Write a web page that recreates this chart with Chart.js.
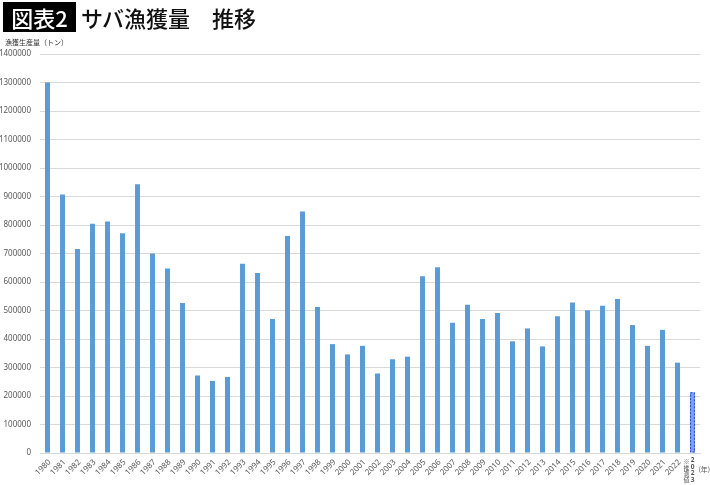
<!DOCTYPE html>
<html>
<head>
<meta charset="utf-8">
<script src="https://cdn.jsdelivr.net/npm/chart.js"></script>
<style>
  body { margin: 0; background: #fff; font-family: "Noto Sans CJK JP", "Noto Sans", sans-serif; }
  #wrap { position: relative; width: 710px; height: 485px; }
  #chart { position: absolute; left: 0; top: 0; }
  .badge { position: absolute; left: 3px; top: 2px; width: 73px; height: 30px; background: #000; color: #fff;
           font-size: 22px; font-weight: 500; line-height: 30px; text-align: center; }
  .title { position: absolute; left: 81px; top: 2px; font-size: 22px; font-weight: 500; line-height: 30px; color: #111; }
  .ylab { position: absolute; left: 5px; top: 37px; font-size: 7px; color: #333; }
</style>
</head>
<body>
<div id="wrap">
  <canvas id="chart" width="710" height="485"></canvas>
  <div class="badge">図表2</div>
  <div class="title">サバ漁獲量　推移</div>
  <div class="ylab">漁獲生産量（トン）</div>
</div>
<script>
// years 1980 - 2023 (2023 = estimate)
const years = ['1980','1981','1982','1983','1984','1985','1986','1987','1988','1989',
  '1990','1991','1992','1993','1994','1995','1996','1997','1998','1999',
  '2000','2001','2002','2003','2004','2005','2006','2007','2008','2009',
  '2010','2011','2012','2013','2014','2015','2016','2017','2018','2019',
  '2020','2021','2022','2023'];

// catch in tonnes
const catchTons = [1300000, 907000, 716000, 804000, 812000, 771000, 943000, 700000, 647000, 526000,
  272000, 253000, 267000, 664000, 632000, 470000, 761000, 847000, 512000, 382000,
  346000, 376000, 279000, 329000, 338000, 620000, 652000, 457000, 520000, 470000,
  491000, 392000, 437000, 374000, 480000, 528000, 501000, 517000, 540000, 449000,
  376000, 432000, 317000, 213000];

const estimateLabel = '※推測値';
const yearUnit = '(年)';

const barBlue = '#5b9bd5';
const estFill = '#7d9ef2';
const estBorder = '#2c46c9';

const lastIdx = years.length - 1;

// year labels drawn by hand: diagonal for normal years, stacked vertical for the estimate
const yearLabels = {
  id: 'yearLabels',
  afterDraw(chart) {
    const { ctx, scales: { x } } = chart;
    ctx.save();
    ctx.fillStyle = '#595959';
    ctx.font = '8px "Noto Sans", sans-serif';
    for (let i = 0; i < lastIdx; i++) {
      const px = x.getPixelForValue(i);
      ctx.save();
      ctx.translate(px + 2, 461);
      ctx.rotate(-Math.PI / 4);
      ctx.textAlign = 'right';
      ctx.textBaseline = 'middle';
      ctx.fillText(years[i], 0, 0);
      ctx.restore();
    }
    // estimate column
    const px = x.getPixelForValue(lastIdx);
    ctx.textAlign = 'center';
    ctx.textBaseline = 'top';
    ctx.font = '6px "Noto Sans CJK JP", sans-serif';
    estimateLabel.split('').forEach((c, k) => ctx.fillText(c, px - 6, 459 + k * 6));
    ctx.font = 'bold 6.5px "Noto Sans", sans-serif';
    years[lastIdx].split('').forEach((c, k) => ctx.fillText(c, px, 457 + k * 6.5));
    ctx.font = '7px "Noto Sans CJK JP", sans-serif';
    ctx.textAlign = 'left';
    ctx.fillText(yearUnit, px + 6, 466);
    ctx.restore();
  }
};

// dashed outline for the estimated bar
const dashedEstimate = {
  id: 'dashedEstimate',
  afterDatasetsDraw(chart) {
    const bar = chart.getDatasetMeta(0).data[lastIdx];
    if (!bar) return;
    const { x, y, base, width } = bar.getProps(['x', 'y', 'base', 'width'], true);
    const ctx = chart.ctx;
    ctx.save();
    ctx.strokeStyle = estBorder;
    ctx.lineWidth = 1;
    ctx.setLineDash([2, 1.5]);
    ctx.strokeRect(x - width / 2 + 0.5, y + 0.5, width - 1, base - y - 1);
    ctx.restore();
  }
};

new Chart(document.getElementById('chart'), {
  type: 'bar',
  data: {
    labels: years,
    datasets: [{
      data: catchTons,
      backgroundColor: catchTons.map((v, i) => i === lastIdx ? estFill : barBlue),
      borderWidth: 0,
      barPercentage: 0.33,
      categoryPercentage: 1
    }]
  },
  options: {
    responsive: false,
    animation: false,
    layout: { padding: { top: 54, right: 10, left: 0, bottom: 0 } },
    plugins: { legend: { display: false }, tooltip: { enabled: false } },
    scales: {
      x: {
        grid: { display: false },
        border: { color: '#d9d9d9' },
        ticks: { display: false },
        afterFit(scale) { scale.height = 32; }
      },
      y: {
        min: 0,
        max: 1400000,
        ticks: {
          stepSize: 100000,
          color: '#595959',
          font: { size: 8, family: '"Noto Sans", sans-serif' },
          padding: 9,
          callback: v => String(v)
        },
        grid: { color: '#d9d9d9', drawTicks: false },
        border: { display: false },
        afterFit(scale) { scale.width = 40; }
      }
    }
  },
  plugins: [dashedEstimate, yearLabels]
});
</script>
</body>
</html>
